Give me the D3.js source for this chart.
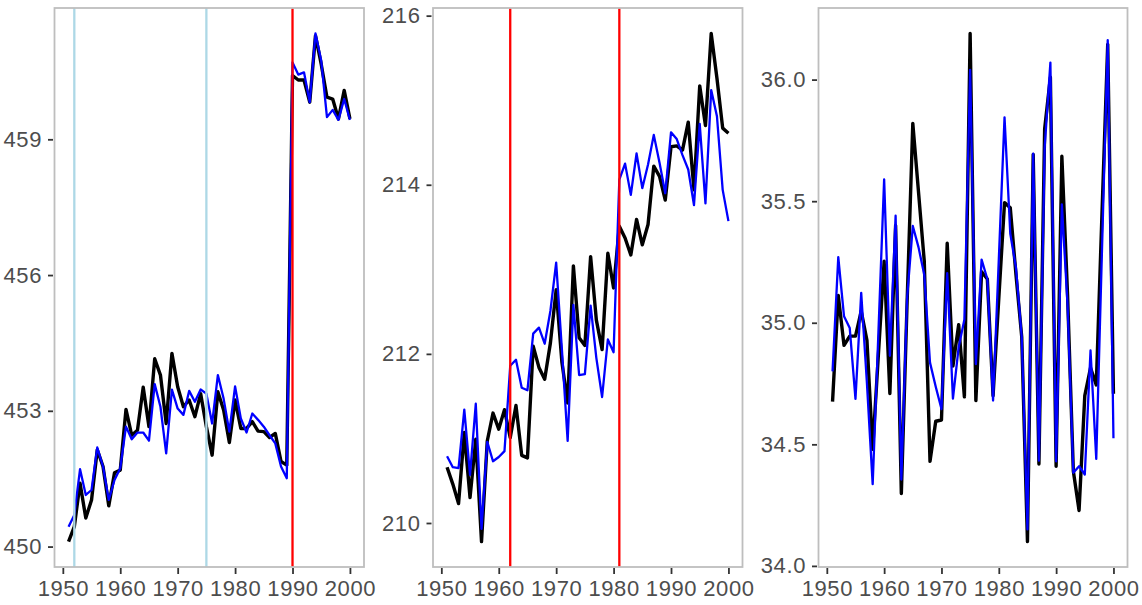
<!DOCTYPE html>
<html>
<head>
<meta charset="utf-8">
<script src="https://cdn.jsdelivr.net/npm/d3@7"></script>
<style>
  html, body { margin: 0; padding: 0; background: #ffffff; }
  svg { display: block; }
  text { font-family: "Liberation Sans", Arial, Helvetica, sans-serif; }
</style>
</head>
<body>
<svg id="chart" width="1142" height="605"></svg>
<script>
// ---------------- data ----------------
const years = [1951,1952,1953,1954,1955,1956,1957,1958,1959,1960,
               1961,1962,1963,1964,1965,1966,1967,1968,1969,1970,
               1971,1972,1973,1974,1975,1976,1977,1978,1979,1980,
               1981,1982,1983,1984,1985,1986,1987,1988,1989,1990,
               1991,1992,1993,1994,1995,1996,1997,1998,1999,2000];

const xTicks = [1950, 1960, 1970, 1980, 1990, 2000];

// Panel 1
const p1Black = [450.11,450.44,451.40,450.63,451.03,452.14,451.77,450.90,451.63,451.69,
                 453.03,452.46,452.57,453.52,452.65,454.15,453.79,452.72,454.27,453.53,
                 453.09,453.24,452.87,453.38,452.65,452.02,453.42,453.02,452.30,453.24,
                 452.61,452.61,452.76,452.55,452.54,452.41,452.50,451.88,451.80,460.41,
                 460.31,460.31,459.82,461.29,460.66,459.93,459.89,459.45,460.08,459.45];
const p1Blue  = [450.44,450.70,451.71,451.14,451.25,452.19,451.77,451.03,451.47,451.73,
                 452.65,452.37,452.52,452.52,452.34,453.59,453.09,452.06,453.47,453.05,
                 452.91,453.44,453.20,453.47,453.38,452.72,453.79,453.27,452.54,453.54,
                 452.83,452.52,452.94,452.80,452.65,452.46,452.28,451.77,451.51,460.70,
                 460.43,460.48,459.82,461.34,460.74,459.49,459.65,459.43,459.89,459.43];
const p1Ticks = [450, 453, 456, 459];
const p1LightBlueLines = [1952, 1975];
const p1RedLines = [1990];

// Panel 2
const p2Black = [210.66,210.46,210.23,211.07,210.30,210.99,209.78,210.97,211.30,211.11,
                 211.34,211.01,211.39,210.80,210.77,212.09,211.84,211.70,212.13,212.76,
                 211.90,211.42,213.04,212.19,212.10,213.15,212.40,212.05,213.19,212.78,
                 213.51,213.37,213.17,213.59,213.29,213.53,214.22,214.10,213.82,214.45,
                 214.46,214.41,214.74,213.94,215.17,214.70,215.79,215.26,214.67,214.61];
const p2Blue  = [210.79,210.66,210.65,211.34,210.57,211.41,209.93,210.96,210.73,210.78,
                 210.85,211.86,211.93,211.60,211.57,212.24,212.31,212.12,212.51,213.08,
                 212.05,210.97,212.58,211.75,211.76,212.57,211.95,211.49,212.17,212.02,
                 214.06,214.25,213.88,214.37,213.96,214.24,214.59,214.26,213.90,214.62,
                 214.54,214.35,214.18,213.76,214.72,213.78,215.12,214.81,213.94,213.57];
const p2Ticks = [210, 212, 214, 216];
const p2LightBlueLines = [];
const p2RedLines = [1962, 1981];

// Panel 3
const p3Black = [34.676,35.112,34.907,34.945,34.945,35.048,34.928,34.48,34.87,35.253,
                 34.709,35.40,34.298,35.08,35.82,35.536,35.253,34.43,34.595,34.60,
                 35.327,34.822,34.992,34.695,36.19,34.68,35.21,35.18,34.70,35.10,
                 35.494,35.473,35.197,34.942,34.10,35.692,34.419,35.798,36.01,34.41,
                 35.685,35.112,34.39,34.228,34.70,34.815,34.744,35.45,36.145,34.708];
const p3Blue  = [34.80,35.27,35.027,34.978,34.687,35.123,34.75,34.336,34.96,35.59,
                 34.864,35.44,34.355,35.10,35.398,35.31,35.197,34.836,34.737,34.645,
                 35.204,34.688,34.90,35.013,36.04,34.83,35.26,35.18,34.68,35.26,
                 35.845,35.367,35.225,34.942,34.15,35.695,34.433,35.72,36.07,34.43,
                 35.487,35.07,34.383,34.41,34.376,34.886,34.44,35.30,36.162,34.525];
const p3Ticks = [34.0, 34.5, 35.0, 35.5, 36.0];
const p3LightBlueLines = [];
const p3RedLines = [];

// ---------------- layout ----------------
const panels = [
  { black: p1Black, blue: p1Blue, ticks: p1Ticks, fmt: d3.format("d"),   light: p1LightBlueLines, red: p1RedLines, left: 54.5, right: 364 },
  { black: p2Black, blue: p2Blue, ticks: p2Ticks, fmt: d3.format("d"),   light: p2LightBlueLines, red: p2RedLines, left: 433,  right: 742.5 },
  { black: p3Black, blue: p3Blue, ticks: p3Ticks, fmt: d3.format(".1f"), light: p3LightBlueLines, red: p3RedLines, left: 818.5, right: 1127.5 }
];
const plotTop = 8, plotBottom = 567;

const svg = d3.select("#chart");
const xExt = d3.extent(years);
const xPad = (xExt[1] - xExt[0]) * 0.05;

panels.forEach((p, i) => {
  const x = d3.scaleLinear().domain([xExt[0] - xPad, xExt[1] + xPad]).range([p.left, p.right]);
  const all = p.black.concat(p.blue);
  const yExt = d3.extent(all);
  const yPad = (yExt[1] - yExt[0]) * 0.05;
  const y = d3.scaleLinear().domain([yExt[0] - yPad, yExt[1] + yPad]).range([plotBottom, plotTop]);

  const g = svg.append("g").attr("class", "panel-" + (i + 1));

  const clipId = "clip" + i;
  svg.append("clipPath").attr("id", clipId)
    .append("rect").attr("x", p.left).attr("y", plotTop)
    .attr("width", p.right - p.left).attr("height", plotBottom - plotTop);

  const plot = g.append("g").attr("clip-path", `url(#${clipId})`);

  const line = d3.line().x((d, j) => x(years[j])).y(d => y(d));

  plot.append("path").datum(p.black)
    .attr("d", line).attr("fill", "none").attr("stroke", "#000000")
    .attr("stroke-width", 3.4).attr("stroke-linejoin", "round");
  plot.append("path").datum(p.blue)
    .attr("d", line).attr("fill", "none").attr("stroke", "#0000FF")
    .attr("stroke-width", 2.3).attr("stroke-linejoin", "round");

  plot.selectAll("line.lb").data(p.light).enter().append("line").attr("class", "lb")
    .attr("x1", d => x(d)).attr("x2", d => x(d)).attr("y1", plotTop).attr("y2", plotBottom)
    .attr("stroke", "#ADD8E6").attr("stroke-width", 2.3);
  plot.selectAll("line.rd").data(p.red).enter().append("line").attr("class", "rd")
    .attr("x1", d => x(d)).attr("x2", d => x(d)).attr("y1", plotTop).attr("y2", plotBottom)
    .attr("stroke", "#FF0000").attr("stroke-width", 2.3);

  g.append("rect").attr("x", p.left).attr("y", plotTop)
    .attr("width", p.right - p.left).attr("height", plotBottom - plotTop)
    .attr("fill", "none").attr("stroke", "#BEBEBE").attr("stroke-width", 1.8);

  const yAxis = d3.axisLeft(y).tickValues(p.ticks).tickFormat(p.fmt).tickSize(5).tickPadding(6);
  const ya = g.append("g").attr("transform", `translate(${p.left - 1.5},0)`).call(yAxis);
  const xAxis = d3.axisBottom(x).tickValues(xTicks).tickFormat(d3.format("d")).tickSize(6).tickPadding(6);
  const xa = g.append("g").attr("transform", `translate(0,${plotBottom + 1})`).call(xAxis);

  [ya, xa].forEach(a => {
    a.select(".domain").remove();
    a.selectAll(".tick line").attr("stroke", "#333333").attr("stroke-width", 1.8);
    a.selectAll(".tick text").attr("fill", "#4D4D4D").style("font-size", "22px")
      .style("letter-spacing", "0.6px");
  });
});
</script>
</body>
</html>
